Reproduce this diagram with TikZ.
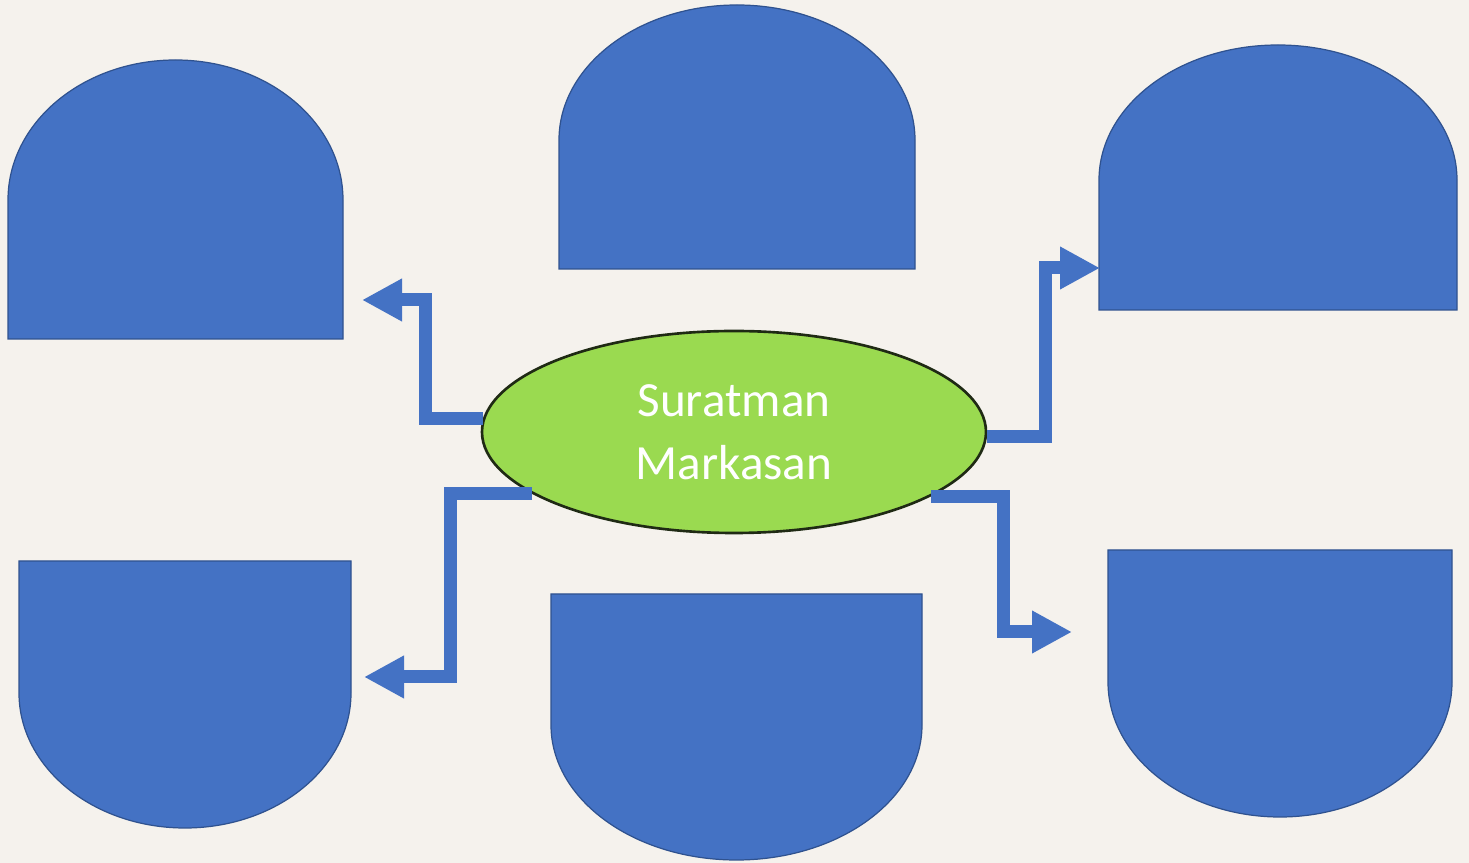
\documentclass[tikz,border=0pt]{standalone}
\usepackage{fontspec}
\setsansfont{Carlito}
\usetikzlibrary{arrows.meta,shapes.geometric}
\definecolor{paper}{HTML}{F5F2ED}
\definecolor{boxblue}{HTML}{4472C4}
\definecolor{boxedge}{HTML}{2F528F}
\definecolor{hubgreen}{HTML}{9ADA50}
\definecolor{hubrim}{HTML}{1F2A14}
\begin{document}
\begin{tikzpicture}[
  blob/.style={fill=boxblue, draw=boxedge, line width=0.7pt},
  flow/.style={color=boxblue, line width=0.26cm, line join=miter,
    -{Triangle[length=0.8cm,width=0.8cm,fill=boxblue]}},
  hub/.style={ellipse, fill=hubgreen, draw=hubrim, line width=1.5pt,
    minimum width=10.08cm, minimum height=4.04cm, inner sep=0pt, align=center,
    text=white, font=\sffamily\fontsize{28}{36}\selectfont}
]
\useasboundingbox (0,0) rectangle (29.38,17.26);
\fill[paper] (0,0) rectangle (29.38,17.26);
% domes, round side up
\foreach \xa/\xb/\yb/\ys/\r in {0.16/6.86/10.48/13.26/2.8, 11.18/18.30/11.88/14.46/2.7, 21.98/29.14/11.06/13.66/2.7}
    \draw[blob] (\xa,\yb) -- (\xa,\ys) arc[start angle=180, end angle=0, x radius={(\xb-\xa)/2}, y radius=\r] -- (\xb,\yb) -- cycle;
% domes, round side down
\foreach \xa/\xb/\yt/\ys/\r in {0.38/7.02/6.04/3.40/2.7, 11.02/18.44/5.38/2.76/2.7, 22.16/29.04/6.26/3.62/2.7}
    \draw[blob] (\xa,\yt) -- (\xa,\ys) arc[start angle=180, end angle=360, x radius={(\xb-\xa)/2}, y radius=\r] -- (\xb,\yt) -- cycle;
\node[hub] (centre) at (14.68,8.62) {Suratman\\Markasan};
\coordinate (luBend) at (8.50,11.26);
\coordinate (luTip)  at (7.24,11.26);
\coordinate (llBend) at (9.00,3.72);
\coordinate (llTip)  at (7.28,3.72);
\coordinate (ruBend) at (20.90,11.90);
\coordinate (ruTip)  at (22.00,11.90);
\coordinate (rlBend) at (20.06,4.62);
\coordinate (rlTip)  at (21.44,4.62);
\draw[flow] (centre.177) -| (luBend) -- (luTip);
\draw[flow] (centre.197) -| (llBend) -- (llTip);
\draw[flow] (centre.359) -| (ruBend) -- (ruTip);
\draw[flow] (centre.342) -| (rlBend) -- (rlTip);
\end{tikzpicture}
\end{document}
